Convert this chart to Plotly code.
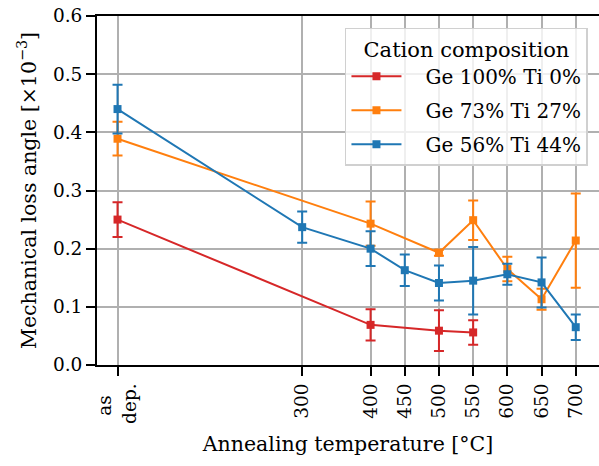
import plotly.graph_objects as go

# x positions (°C); "as dep." placed near room temperature
tick_vals = [30, 300, 400, 450, 500, 550, 600, 650, 700]
tick_text = ["as\u00a0\u00a0<br>dep.", "300", "400", "450", "500", "550", "600", "650", "700"]

names = ["Ge 100% Ti 0%", "Ge 73% Ti 27%", "Ge 56% Ti 44%"]
colors = ["#d62728", "#ff7f0e", "#1f77b4"]

ge100_x = [30, 400, 500, 550]
ge100_y = [0.250, 0.069, 0.059, 0.056]
ge100_err = [0.030, 0.027, 0.035, 0.021]

ge73_x = [30, 400, 500, 550, 600, 650, 700]
ge73_y = [0.389, 0.243, 0.193, 0.249, 0.165, 0.113, 0.214]
ge73_err = [0.029, 0.038, 0.005, 0.034, 0.021, 0.018, 0.081]

ge56_x = [30, 300, 400, 450, 500, 550, 600, 650, 700]
ge56_y = [0.440, 0.237, 0.200, 0.163, 0.141, 0.145, 0.156, 0.142, 0.065]
ge56_err = [0.042, 0.027, 0.030, 0.027, 0.030, 0.058, 0.018, 0.043, 0.022]

series = [(ge100_x, ge100_y, ge100_err), (ge73_x, ge73_y, ge73_err), (ge56_x, ge56_y, ge56_err)]

FONT = "DejaVu Serif"
GAP = "\u00a0\u00a0\u00a0"
fig = go.Figure()
for i, ((xs, ys, es), name, col) in enumerate(zip(series, names, colors)):
    fig.add_trace(go.Scatter(
        x=xs, y=ys, name=GAP + name, mode="lines+markers", legendgroup=f"g{i}",
        line=dict(color=col, width=2),
        marker=dict(symbol="square", size=8, color=col),
        error_y=dict(type="data", array=es, visible=True, color=col, thickness=2, width=5),
    ))

fig.update_layout(
    width=599, height=466,
    margin=dict(l=97, r=0, t=16, b=101),
    plot_bgcolor="white", paper_bgcolor="white",
    font=dict(family=FONT, size=18.5, color="black"),
    legend=dict(
        title=dict(text="Cation composition", side="top center", font=dict(size=21)),
        x=0.978, y=0.966, xanchor="right", yanchor="top",
        bgcolor="rgba(255,255,255,0.8)", bordercolor="#d0d0d0", borderwidth=1.5,
        font=dict(size=20), itemwidth=50, tracegroupgap=5,
    ),
    showlegend=True,
)
fig.update_xaxes(
    range=[0, 734], tickvals=tick_vals, ticktext=tick_text, tickangle=-90,
    showgrid=True, gridcolor="#b0b0b0", gridwidth=1.5,
    showline=True, linecolor="black", linewidth=2, mirror=True,
    ticks="outside", ticklen=9, tickwidth=1.5, tickcolor="black",
    zeroline=False, automargin=False, ticklabeloverflow="allow",
    title=dict(text="Annealing temperature [°C]", standoff=14, font=dict(size=20.5)),
)
fig.update_yaxes(
    range=[0, 0.6], dtick=0.1, tickformat=".1f",
    showgrid=True, gridcolor="#b0b0b0", gridwidth=1.5,
    showline=True, linecolor="black", linewidth=2,
    ticks="outside", ticklen=9, tickwidth=1.5, tickcolor="black",
    zeroline=False, automargin=False, ticklabeloverflow="allow",
    title=dict(text="Mechanical loss angle [×10<sup>−3</sup>]", standoff=11, font=dict(size=20.5)),
)
fig.write_html("out.html", post_script="document.body.style.margin='0';",
               config={"displayModeBar": False})
